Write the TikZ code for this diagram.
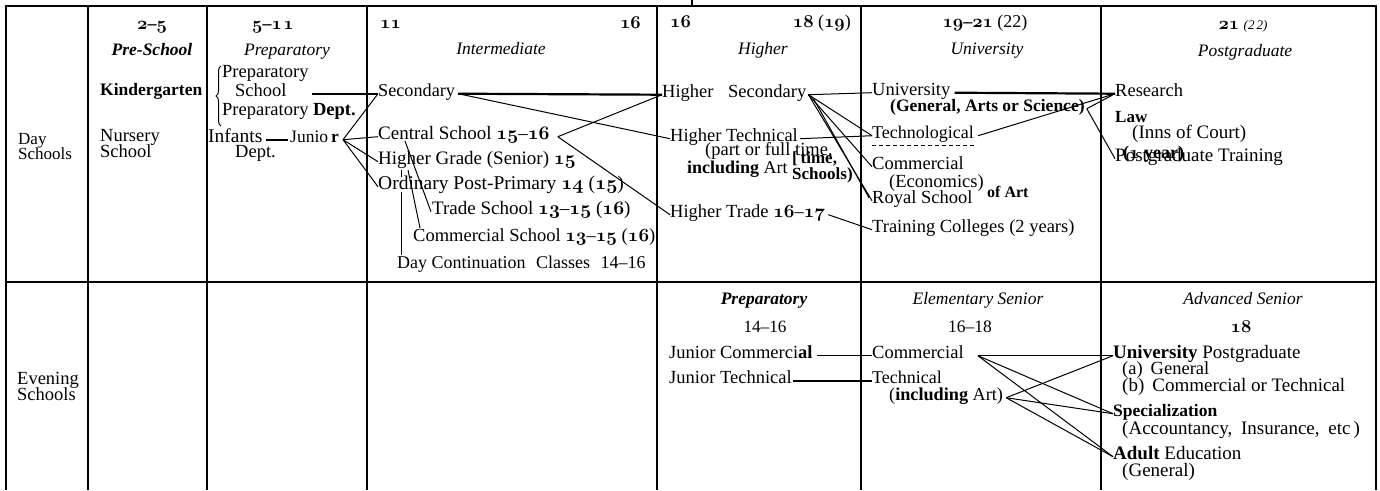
\documentclass[tikz,border=0pt]{standalone}
\usepackage{fix-cm}
\usepackage{fontspec}
\setmainfont{Liberation Serif}
\usepackage{graphicx}
\usetikzlibrary{decorations.pathreplacing}
\newcommand\os[1]{{\boldmath$\mathnormal{#1}$}}
\newcommand\osr[1]{$\mathnormal{#1}$}
\tikzset{
  gridline/.style={line width=1.8pt},
  link/.style={line width=1pt},
  heavylink/.style={line width=2.2pt},
  tx/.style={inner sep=0pt, anchor=base west, font=\fontsize{18.5}{19}\selectfont},
  txc/.style={inner sep=0pt, anchor=base, font=\fontsize{18.5}{19}\selectfont},
  sz/.style={font=\fontsize{#1}{19}\selectfont},
  szb/.style={font=\fontsize{#1}{19}\selectfont\bfseries},
  hd/.style={inner sep=0pt, anchor=base, font=\fontsize{17.5}{19}\selectfont\itshape},
  hdb/.style={inner sep=0pt, anchor=base, font=\fontsize{17.5}{19}\selectfont\bfseries\itshape},
  num/.style={inner sep=0pt, anchor=base, font=\fontsize{18}{19}\selectfont\bfseries},
}
\begin{document}
\begin{tikzpicture}[x=1pt,y=-1pt]
\useasboundingbox (0,0) rectangle (1380,490);
% table rules
\draw[gridline] (6,490) -- (6,6) -- (1376,6) -- (1376,490);
\foreach \xx in {88,207,367,657,861,1101} \draw[gridline] (\xx,6) -- (\xx,490);
\draw[gridline] (6,282) -- (1376,282);
\draw[gridline] (692,0) -- (692,6);

% headers
\node[num] (a1) at (152,29) {\os{2}--\os{5}};
\node[hdb] (h1) at (152,55) {Pre-School};
\node[num] (a2) at (273,29) {\os{5}--\os{1}\kern1.5pt\os{1}};
\node[hd] (h2) at (287,55) {Preparatory};
\node[num, anchor=base west] (a3) at (380,28) {\os{11}};
\node[num, anchor=base east] (a4) at (641,28) {\os{16}};
\node[hd] (h3) at (501,54) {Intermediate};
\node[num, anchor=base west] (a5) at (670,27) {\os{16}};
\node[num, anchor=base east] (a6) at (851,27) {\os{18} {\mdseries(}\os{19}{\mdseries)}};
\node[hd] (h4) at (763,54) {Higher};
\node[num] (a7) at (985,27) {\os{19}--\os{21} {\mdseries(22)}};
\node[hd] (h5) at (987,54) {University};
\node[num] (a8) at (1243,29) {\os{21} {\mdseries\itshape\fontsize{13}{13}\selectfont(2\,2)}};
\node[hd] (h6) at (1245,56) {Postgraduate};

% day schools
\node[tx, sz=17] (d1) at (18,144) {Day};
\node[tx, sz=17] (d2) at (18,159) {Schools};
\node[tx, szb=17.5] (kg) at (100,95) {Kindergarten};
\node[tx] (nu1) at (100,141) {Nursery};
\node[tx] (nu2) at (100,157) {School};
\draw[line width=1pt, decorate, decoration={brace, amplitude=5pt}] (221,126) -- (221,66);
\node[tx] (pp1) at (222,77) {Preparatory};
\node[tx] (psch) at (235,96) {School};
\node[tx] (pp3) at (222,115) {Preparatory \textbf{Dept.}};
\node[tx, sz=19.5] (inf) at (208,142) {Infants};
\node[tx] (inf2) at (235,157) {Dept.};
\node[tx, sz=17.5] (jun) at (290,142) {Junio\,\textbf{r}};

% intermediate
\node[tx, sz=18.2] (sec) at (378,96) {Secondary};
\node[tx, sz=19] (cen) at (378,139) {Central School \os{15}--\os{16}};
\node[tx, sz=19] (hg) at (378,164) {Higher Grade (Senior) \os{15}};
\node[tx, sz=19.5] (ord) at (378,189) {Ordinary Post-Primary \os{14} (\os{15})};
\node[tx, sz=19] (trade) at (432,214) {Trade School \os{13}--\os{15} (\os{16})};
\node[tx, sz=18.5] (comsch) at (413,241) {Commercial School \os{13}--\os{15} (\os{16})};
\node[tx, sz=18] (dcc) at (397,268) {Day Continuation\hspace{6pt} Classes\hspace{6pt} 14--16};

% higher
\node[tx] (hsec) at (662,97) {Higher\hspace{10pt} Secondary};
\node[tx] (htech) at (670,141) {Higher Technical};
\node[tx] (pft) at (705,155) {(part or full time,};
\node[tx, sz=18] (inart) at (687,173) {\textbf{including} Art};
\node[tx, szb=17] (tim) at (792,163) {[\,time,};
\node[tx, szb=17] (schl) at (792,179) {Schools)};
\node[tx] (htrade) at (670,217) {Higher Trade \os{16}--\os{17}};

% university
\node[tx] (univ) at (872,95) {University};
\node[tx, szb=17.5] (gen) at (890,111) {(General, Arts or Science)};
\node[tx, sz=18] (tech) at (872,138) {Technological};
\node[tx] (ucom) at (872,169) {Commercial};
\node[tx] (econ) at (889,187) {(Economics)};
\node[tx, szb=16] (ofart) at (987,197) {of Art};
\node[tx] (royal) at (872,203) {Royal School};
\node[tx] (train) at (872,232) {Training Colleges (2 years)};

% postgraduate
\node[tx] (res) at (1115,96) {Research};
\node[tx, szb=17] (law) at (1115,122) {Law};
\node[tx, sz=19] (inns) at (1132,138) {(Inns of Court)};
\node[tx, sz=19] (pgt) at (1115,161) {Postgraduate Training};
\node[tx, szb=18] (year) at (1123,158) {(\os{1} year)};

% evening schools
\node[tx] (ev1) at (17,384) {Evening};
\node[tx] (ev2) at (17,400) {Schools};
\node[hdb] (h7) at (764,304) {Preparatory};
\node[txc, sz=17.2] (r1416) at (765,332) {14--16};
\node[hd] (h8) at (978,304) {Elementary Senior};
\node[txc, sz=17.5] (r1618) at (970,332) {16--18};
\node[hd] (h9) at (1243,304) {Advanced Senior};
\node[num] (r18) at (1241,332) {\os{18}};
\node[tx] (jcom) at (669,358) {Junior Commerci\textbf{al}};
\node[tx] (jtech) at (669,383) {Junior Technical};
\node[tx] (ecom) at (872,358) {Commercial};
\node[tx, sz=18] (etech) at (872,383) {Technical};
\node[tx, sz=18.2] (einc) at (889,400) {(\textbf{including} Art)};
\node[tx, sz=19] (upg) at (1113,358) {\textbf{University} Postgraduate};
\node[tx] (ua) at (1122,374) {(a)\hspace{8pt}General};
\node[tx, sz=19] (ub) at (1122,391) {(b)\hspace{8pt}Commercial or Technical};
\node[tx, szb=17.5] (spec) at (1113,416) {Specialization};
\node[tx, sz=19] (acc) at (1122,434) {(Accountancy,\hspace{4pt} Insurance,\hspace{4pt} etc\hspace{3pt})};
\node[tx, sz=19] (adult) at (1113,459) {\textbf{Adult} Education};
\node[tx, sz=19] (gnl) at (1122,476) {(General)};

% connectors: preparatory
\draw[heavylink] ([xshift=3pt]inf.mid east) -- ([xshift=-2pt]jun.mid west);
\coordinate (jf) at ([xshift=4pt]jun.mid east);
\draw[link] (jf) -- (sec.mid west);
\draw[link] (jf) -- (cen.mid west);
\draw[link] (jf) -- (hg.mid west);
\draw[link] (jf) -- (ord.mid west);
\draw[heavylink] ([xshift=25pt]psch.mid east) -- (sec.mid west);

% connectors: intermediate
\draw[heavylink] ([xshift=3pt]sec.mid east) -- (hsec.mid west);
\draw[link] ([xshift=3pt]sec.mid east) -- (htech.mid west);
\coordinate (cf) at ([xshift=8pt]cen.mid east);
\draw[link] (cf) -- (hsec.mid west);
\draw[link] (cf) -- (htrade.mid west);
\draw[link] ([xshift=27pt,yshift=-2pt]cen.base west) -- ([xshift=-1pt]trade.mid west);
\draw[link] ([xshift=30pt,yshift=-6pt]hg.base west) -- ([xshift=7pt]comsch.north west);
\draw[link] ([xshift=23pt,yshift=-6pt]hg.base west) -- ([xshift=23pt,yshift=-13pt]hg.base west);
\draw[link] ([xshift=23pt,yshift=-3pt]ord.base west) -- ([xshift=4pt]dcc.north west);

% connectors: higher
\coordinate (hsf) at ([xshift=2pt]hsec.mid east);
\draw[link] (hsf) -- (univ.mid west);
\draw[link] (hsf) -- (tech.mid west);
\draw[link] (hsf) -- (ucom.mid west);
\draw[link] (hsf) -- (royal.mid west);
\draw[link] ([xshift=7pt,yshift=-4pt]hsec.mid east) -- ([xshift=-3pt,yshift=3pt]royal.mid west);
\draw[link] ([xshift=2pt]htech.mid east) -- (tech.mid west);
\draw[link] ([xshift=3pt]htrade.mid east) -- (train.mid west);

% connectors: university
\draw[heavylink] ([xshift=4pt]univ.mid east) -- (res.mid west);
\coordinate (gf) at ([xshift=2pt]gen.mid east);
\draw[link] (gf) -- (res.mid west);
\draw[link] (gf) -- (pgt.mid west);
\draw[link] ([xshift=4pt]tech.mid east) -- (res.mid west);
\draw[link, dash pattern=on 4pt off 3pt] ([yshift=-7pt]tech.base west) -- ([yshift=-7pt]tech.base east);

% connectors: evening
\draw[link] ([xshift=4pt]jcom.mid east) -- (ecom.mid west);
\draw[heavylink] ([xshift=1pt]jtech.mid east) -- (etech.mid west);
\coordinate (ecf) at ([xshift=14pt]ecom.mid east);
\draw[link] (ecf) -- (upg.mid west);
\draw[link] (ecf) -- (spec.mid west);
\draw[link] (ecf) -- (adult.mid west);
\coordinate (icf) at ([xshift=3pt]einc.mid east);
\draw[link] (icf) -- (upg.mid west);
\draw[link] (icf) -- (spec.mid west);
\draw[link] (icf) -- (adult.mid west);
\end{tikzpicture}
\end{document}
